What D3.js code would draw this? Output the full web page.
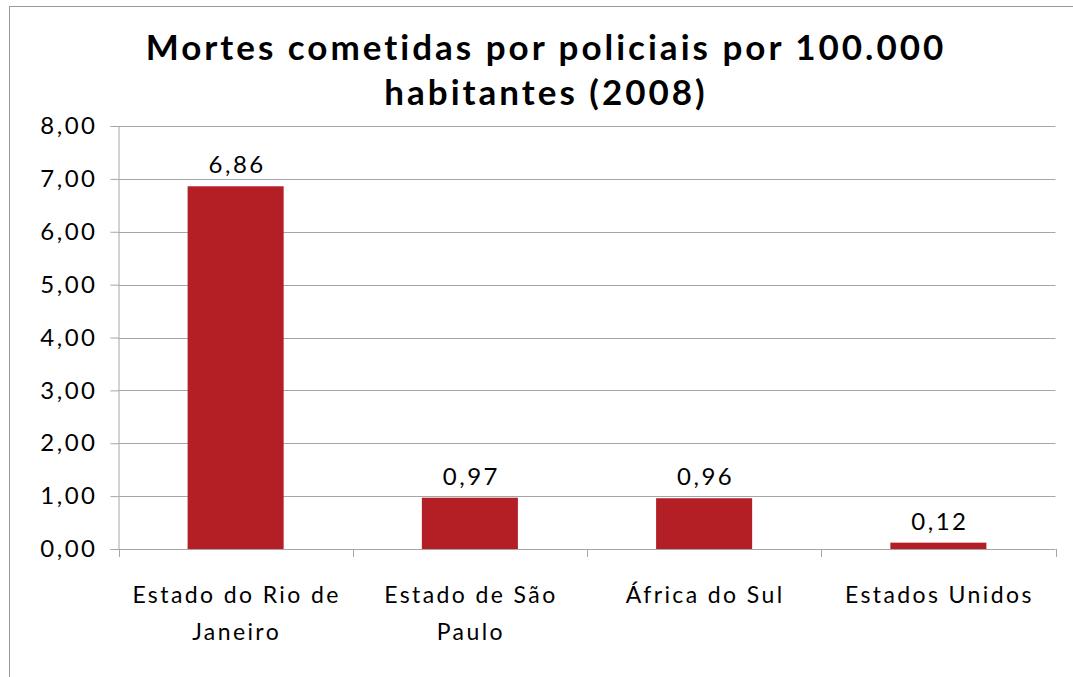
<!DOCTYPE html>
<html>
<head>
<meta charset="utf-8">
<script src="https://cdn.jsdelivr.net/npm/d3@7"></script>
<style>
  body { margin: 0; background: #fff; }
  text { font-family: Lato, "Open Sans", sans-serif; fill: #000; }
</style>
</head>
<body>
<div id="chart"></div>
<script>
// data
var categories = ["Estado do Rio de Janeiro", "Estado de São Paulo", "África do Sul", "Estados Unidos"];
var labelLines = [["Estado do Rio de", "Janeiro"], ["Estado de São", "Paulo"], ["África do Sul"], ["Estados Unidos"]];
var values = [6.86, 0.97, 0.96, 0.12];
var yTicks = [0, 1, 2, 3, 4, 5, 6, 7, 8];
var titleLines = ["Mortes cometidas por policiais por 100.000", "habitantes (2008)"];

var W = 1073, H = 677;
var fmt = function(v) { return d3.format(".2f")(v).replace(".", ","); };

var svg = d3.select("#chart")
	.append("svg")
	.attr("width", W)
	.attr("height", H);

// outer frame
svg.append("rect")
	.attr("x", 9.5)
	.attr("y", 6.5)
	.attr("width", W + 10)
	.attr("height", H + 10)
	.attr("fill", "none")
	.attr("stroke", "#999");

var margin = {left: 118.5, right: 1055.5, top: 126, bottom: 549};

var x = d3.scaleBand()
	.domain(categories)
	.range([margin.left, margin.right])
	.paddingInner(0.59)
	.paddingOuter(0.295);

var y = d3.scaleLinear()
	.domain([0, 8])
	.range([margin.bottom, margin.top]);

// gridlines
svg.append("g")
	.selectAll("line")
	.data(yTicks)
	.join("line")
	.attr("x1", margin.left)
	.attr("x2", margin.right)
	.attr("y1", function(d) { return Math.round(y(d)) + 0.5; })
	.attr("y2", function(d) { return Math.round(y(d)) + 0.5; })
	.attr("stroke", "#a6a6a6");

// y axis
var yAxis = svg.append("g")
	.attr("transform", "translate(" + margin.left + ",0)")
	.call(d3.axisLeft(y).tickValues(yTicks).tickFormat(fmt).tickSize(8).tickPadding(13));
yAxis.select(".domain").attr("stroke", "#a6a6a6");
yAxis.selectAll(".tick line").attr("stroke", "#a6a6a6");
yAxis.selectAll(".tick text")
	.attr("font-size", "24px")
	.attr("letter-spacing", "2.5px")
	.attr("font-family", "Lato, sans-serif")
	.attr("fill", "#000");

// x axis: category boundary ticks
var bounds = d3.range(categories.length + 1).map(function(i) {
	return margin.left + i * x.step();
});
svg.append("g")
	.selectAll("line")
	.data(bounds)
	.join("line")
	.attr("x1", function(d) { return Math.round(d) + 0.5; })
	.attr("x2", function(d) { return Math.round(d) + 0.5; })
	.attr("y1", margin.bottom)
	.attr("y2", margin.bottom + 8)
	.attr("stroke", "#a6a6a6");

// bars
svg.append("g")
	.selectAll("rect")
	.data(values)
	.join("rect")
	.attr("x", function(d, i) { return x(categories[i]); })
	.attr("y", function(d) { return y(d); })
	.attr("width", x.bandwidth())
	.attr("height", function(d) { return y(0) - y(d); })
	.attr("fill", "#b31f24");

// value labels
svg.append("g")
	.selectAll("text")
	.data(values)
	.join("text")
	.attr("x", function(d, i) { return x(categories[i]) + x.bandwidth() / 2 + 1.5; })
	.attr("y", function(d) { return y(d) - 13; })
	.attr("text-anchor", "middle")
	.attr("font-size", "24px")
	.attr("letter-spacing", "2.5px")
	.text(fmt);

// category labels
var cl = svg.append("g")
	.selectAll("text")
	.data(labelLines)
	.join("text")
	.attr("text-anchor", "middle")
	.attr("font-size", "23px")
	.attr("letter-spacing", "2.4px")
	.attr("x", function(d, i) { return x(categories[i]) + x.bandwidth() / 2 + 1; })
	.attr("y", 603);
cl.selectAll("tspan")
	.data(function(d) { return d; })
	.join("tspan")
	.attr("x", function() { return d3.select(this.parentNode).attr("x"); })
	.attr("dy", function(d, i) { return i == 0 ? 0 : 37; })
	.text(function(d) { return d; });

// title
svg.append("g")
	.selectAll("text")
	.data(titleLines)
	.join("text")
	.attr("x", 546)
	.attr("y", function(d, i) { return 60 + i * 45; })
	.attr("text-anchor", "middle")
	.attr("font-size", "35px")
	.attr("font-weight", "bold")
	.attr("letter-spacing", "3px")
	.text(function(d) { return d; });
</script>
</body>
</html>
